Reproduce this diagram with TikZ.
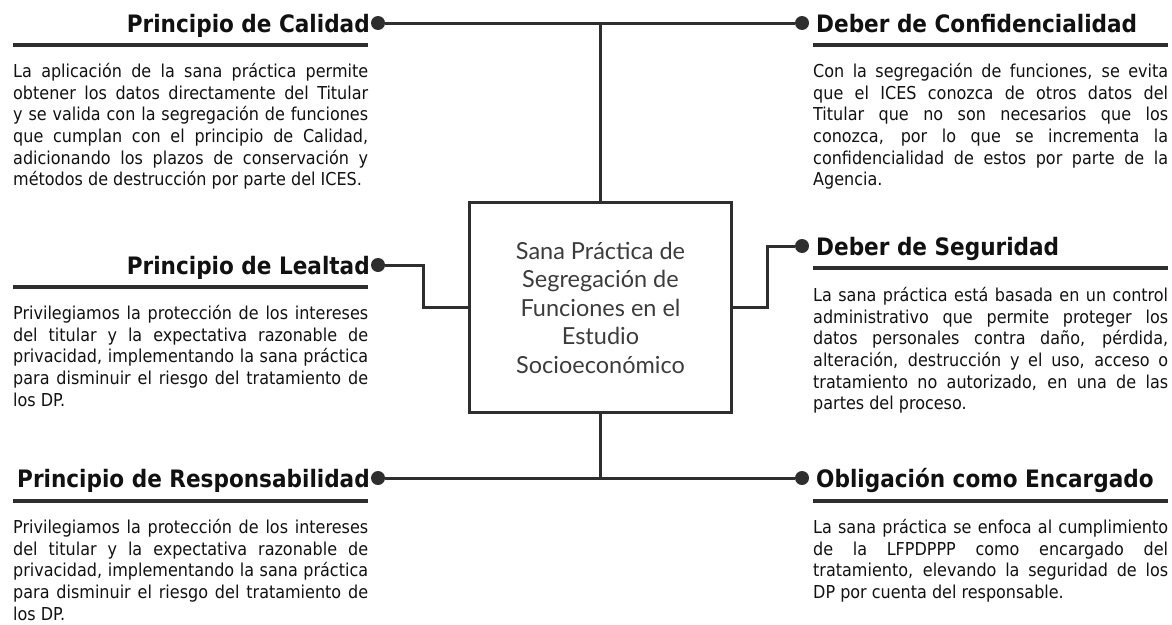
\documentclass[tikz,border=0pt]{standalone}
\usepackage{fontspec}
\setmainfont{DejaVu Sans Condensed}
\newfontfamily\ctrfont{Lato}
\definecolor{ln}{HTML}{2E2E2E}
\definecolor{ink}{HTML}{111111}
\definecolor{ctrink}{HTML}{3C3C3C}
\tikzset{
  conn/.style={draw=ln, line width=3pt},
  ul/.style={draw=ln, line width=3.2pt},
  dot/.style={circle, fill=ln, inner sep=0pt, minimum size=14pt},
  ttl/.style={inner sep=0pt, text=ink, font=\fontsize{24}{28}\selectfont\bfseries},
  body/.style={inner sep=0pt, text=ink, text width=355pt, align=justify,
    font=\fontsize{17.8}{21.7}\selectfont},
  ctrbox/.style={draw=ln, line width=3.4pt, minimum width=262pt, minimum height=210pt,
    inner sep=0pt, align=center, text=ctrink,
    font=\ctrfont\fontsize{23.5}{28.5}\selectfont}
}
\begin{document}
\begin{tikzpicture}[x=1pt,y=-1pt]
\useasboundingbox (0,0) rectangle (1172,624);
% center
\node[ctrbox] (ctr) at (600.5,307.5) {Sana Práctica de\\Segregación de\\Funciones en el\\Estudio\\Socioeconómico};
% dots
\node[dot] (dTL) at (378,23) {};
\node[dot] (dTR) at (802,23) {};
\node[dot] (dML) at (378,265) {};
\node[dot] (dMR) at (802,246) {};
\node[dot] (dBL) at (378,478) {};
\node[dot] (dBR) at (802,478) {};
\coordinate (eL) at (423,265);
\coordinate (eR) at (767,246);
% connectors
\draw[conn] (dTL) -- (dTR);
\draw[conn] (ctr.north) -- (ctr.north |- dTL);
\draw[conn] (dBL) -- (dBR);
\draw[conn] (ctr.south) -- (ctr.south |- dBL);
\draw[conn] (dML) -- (eL) |- (ctr.west);
\draw[conn] (ctr.east) -| (eR) -- (dMR);
% titles
\node[ttl, anchor=base east] (tTL) at (370,32) {Principio de Calidad};
\node[ttl, anchor=base west] (tTR) at (816,32) {Deber de Confidencialidad};
\node[ttl, anchor=base east] (tML) at (370,274) {Principio de Lealtad};
\node[ttl, anchor=base west] (tMR) at (816,255) {Deber de Seguridad};
\node[ttl, anchor=base east] (tBL) at (370,487) {Principio de Responsabilidad};
\node[ttl, anchor=base west] (tBR) at (816,487) {Obligación como Encargado};
% underlines
\draw[ul] (13,45) -- (368,45);
\draw[ul] (813,45) -- (1168,45);
\draw[ul] (13,287) -- (368,287);
\draw[ul] (813,268) -- (1168,268);
\draw[ul] (13,501) -- (368,501);
\draw[ul] (813,501) -- (1168,501);
% bodies
\node[body, anchor=north west] (bTL) at (13,63) {La aplicación de la sana práctica permite\linebreak obtener los datos directamente del Titular\linebreak y se valida con la segregación de funciones\linebreak que cumplan con el principio de Calidad,\linebreak adicionando los plazos de conservación y\linebreak métodos de destrucción por parte del ICES.};
\node[body, anchor=north west] (bTR) at (813,63) {Con la segregación de funciones, se evita\linebreak que el ICES conozca de otros datos del\linebreak Titular que no son necesarios que los\linebreak conozca, por lo que se incrementa la\linebreak confidencialidad de estos por parte de la\linebreak Agencia.};
\node[body, anchor=north west] (bML) at (13,305) {Privilegiamos la protección de los intereses\linebreak del titular y la expectativa razonable de\linebreak privacidad, implementando la sana práctica\linebreak para disminuir el riesgo del tratamiento de\linebreak los DP.};
\node[body, anchor=north west] (bMR) at (813,287) {La sana práctica está basada en un control\linebreak administrativo que permite proteger los\linebreak datos personales contra daño, pérdida,\linebreak alteración, destrucción y el uso, acceso o\linebreak tratamiento no autorizado, en una de las\linebreak partes del proceso.};
\node[body, anchor=north west] (bBL) at (13,519) {Privilegiamos la protección de los intereses\linebreak del titular y la expectativa razonable de\linebreak privacidad, implementando la sana práctica\linebreak para disminuir el riesgo del tratamiento de\linebreak los DP.};
\node[body, anchor=north west] (bBR) at (813,519) {La sana práctica se enfoca al cumplimiento\linebreak de la LFPDPPP como encargado del\linebreak tratamiento, elevando la seguridad de los\linebreak DP por cuenta del responsable.};
\end{tikzpicture}
\end{document}
